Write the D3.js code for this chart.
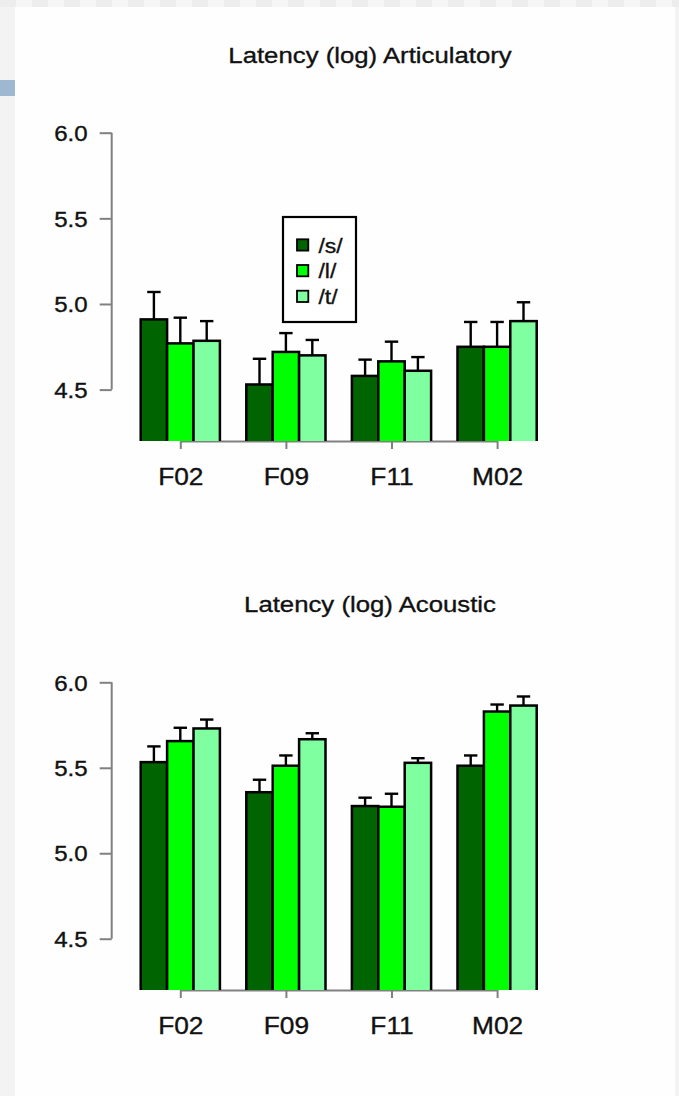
<!DOCTYPE html>
<html>
<head>
<meta charset="utf-8">
<script src="https://cdn.jsdelivr.net/npm/d3@7"></script>
<style>
  html, body { margin: 0; padding: 0; background: #f3f3f3; }
  svg { display: block; }
  text { font-family: "Liberation Sans", Arial, Helvetica, sans-serif; fill: #111; stroke: #111; stroke-width: 0.35px; }
</style>
</head>
<body>
<svg id="chart" width="679" height="1096"></svg>
<script>
// Speakers on the x axis, phonemes as the grouped bars
const speakers = ["F02", "F09", "F11", "M02"];
const phonemes = ["/s/", "/l/", "/t/"];
const phonemeColors = ["#006400", "#00ff00", "#80ffa0"];
const yTicks = [4.5, 5.0, 5.5, 6.0];

// Articulatory latency (log): mean and standard error, one row per phoneme
const articulatoryMean = [
  [4.91, 4.53, 4.58, 4.75],
  [4.77, 4.72, 4.665, 4.75],
  [4.785, 4.70, 4.61, 4.90]
];
const articulatorySE = [
  [0.16, 0.15, 0.095, 0.145],
  [0.15, 0.11, 0.115, 0.145],
  [0.115, 0.09, 0.08, 0.11]
];

// Acoustic latency (log): mean and standard error, one row per phoneme
const acousticMean = [
  [5.533, 5.357, 5.276, 5.512],
  [5.656, 5.512, 5.272, 5.829],
  [5.730, 5.667, 5.529, 5.864]
];
const acousticSE = [
  [0.092, 0.073, 0.049, 0.060],
  [0.078, 0.060, 0.076, 0.041],
  [0.052, 0.035, 0.027, 0.053]
];

const svg = d3.select("#chart");

// Page backdrop: light frame with a white sheet
const frame = svg.append("g");
frame.append("rect").attr("x", 0).attr("y", 0).attr("width", 679).attr("height", 1096).attr("fill", "#f3f3f3");
d3.range(0, 679, 16).forEach((x, i) => {
  frame.append("rect").attr("x", x).attr("y", 0).attr("width", 16).attr("height", 7)
    .attr("fill", i % 2 ? "#f6f6f6" : "#ededed");
});
frame.append("rect").attr("x", 15).attr("y", 7).attr("width", 660).attr("height", 1089).attr("fill", "#fefefe");
frame.append("rect").attr("x", 0).attr("y", 80).attr("width", 15).attr("height", 16).attr("fill", "#9fb8d1");

const X_STRETCH = 1.12;

// Shared x layout: one band per speaker, three bars per band
const x0 = d3.scaleBand().domain(speakers).range([140.7, 536.7]).paddingInner(0.25).paddingOuter(0);
const x1 = d3.scaleBand().domain(phonemes).range([0, x0.bandwidth()]);

function stretchedText(g, x, y, str, size, anchor) {
  return g.append("text")
    .attr("transform", `translate(${x},${y}) scale(${X_STRETCH},1)`)
    .attr("text-anchor", anchor)
    .style("font-size", size + "px")
    .text(str);
}

function drawPanel(opts) {
  const { id, title, titleY, yTop, yBase, means, ses, legend } = opts;
  const g = svg.append("g");
  const y = d3.scaleLinear().domain([4.2, 6.0]).range([yBase, yTop]);

  stretchedText(g, 370, titleY, title, 23, "middle");

  // Left axis
  const axisX = 111.7;
  const ay = g.append("g").attr("transform", `translate(${axisX},0)`)
    .call(d3.axisLeft(y).tickValues(yTicks).tickFormat(d3.format(".1f")).tickSize(12).tickPadding(12).tickSizeOuter(0));
  ay.select(".domain").remove();
  ay.selectAll(".tick line").attr("stroke", "#808080").attr("stroke-width", 2);
  ay.selectAll(".tick text")
    .attr("x", -24 / X_STRETCH)
    .attr("transform", `scale(${X_STRETCH},1)`)
    .attr("dy", "0.36em")
    .style("font-size", "21.5px")
    .style("font-family", "'Liberation Sans', Arial, sans-serif")
    .attr("fill", "#111");
  ay.append("line").attr("x1", 0).attr("x2", 0)
    .attr("y1", y(yTicks[0])).attr("y2", y(yTicks[yTicks.length - 1]))
    .attr("stroke", "#808080").attr("stroke-width", 2);

  // Bottom axis: line between first and last group centre, ticks at centres
  const centers = speakers.map(s => x0(s) + x0.bandwidth() / 2);
  const ax = g.append("g").attr("transform", `translate(0,${yBase})`)
    .call(d3.axisBottom(d3.scalePoint().domain(speakers).range([centers[0], centers[centers.length - 1]]))
      .tickSize(8).tickPadding(19).tickSizeOuter(0));
  ax.select(".domain").attr("stroke", "#808080").attr("stroke-width", 2).attr("d", `M${centers[0]},0.5H${centers[centers.length - 1]}`);
  ax.selectAll(".tick line").attr("stroke", "#808080").attr("stroke-width", 2);
  ax.selectAll(".tick text")
    .attr("transform", `scale(${X_STRETCH},1)`)
    .attr("x", 0)
    .attr("dy", "0.71em")
    .style("font-size", "23.5px")
    .style("font-family", "'Liberation Sans', Arial, sans-serif")
    .attr("fill", "#111");

  // Bars, clipped at the bottom of the plotting region
  g.append("clipPath").attr("id", "clip-" + id)
    .append("rect").attr("x", 0).attr("y", 0).attr("width", 679).attr("height", yBase);

  const rows = [];
  phonemes.forEach((p, pi) => speakers.forEach((s, si) => {
    rows.push({ s, p, pi, m: means[pi][si], e: ses[pi][si] });
  }));

  g.append("g").attr("clip-path", `url(#clip-${id})`)
    .selectAll("rect").data(rows).join("rect")
    .attr("x", d => x0(d.s) + x1(d.p))
    .attr("y", d => y(d.m))
    .attr("width", x1.bandwidth())
    .attr("height", d => yBase + 4 - y(d.m))
    .attr("fill", d => phonemeColors[d.pi])
    .attr("stroke", "#000").attr("stroke-width", 2.5);

  // Error bars (mean to mean + SE, capped)
  const eb = g.append("g").attr("stroke", "#000").attr("stroke-width", 2.4);
  rows.forEach(d => {
    const cx = x0(d.s) + x1(d.p) + x1.bandwidth() / 2;
    eb.append("line").attr("x1", cx).attr("x2", cx).attr("y1", y(d.m)).attr("y2", y(d.m + d.e));
    eb.append("line").attr("x1", cx - 6.7).attr("x2", cx + 6.7).attr("y1", y(d.m + d.e)).attr("y2", y(d.m + d.e));
  });

  if (legend) {
    const lg = g.append("g");
    lg.append("rect").attr("x", 283).attr("y", 217).attr("width", 73).attr("height", 105)
      .attr("fill", "#fff").attr("stroke", "#000").attr("stroke-width", 2.2);
    phonemes.forEach((p, i) => {
      const cy = 245 + i * 25.7;
      lg.append("rect").attr("x", 297).attr("y", cy - 5.7).attr("width", 11.3).attr("height", 11.3)
        .attr("fill", phonemeColors[i]).attr("stroke", "#000").attr("stroke-width", 1.8);
      stretchedText(lg, 318.5, cy + 7.5, p, 20.5, "start");
    });
  }
}

drawPanel({
  id: "art", title: "Latency (log) Articulatory", titleY: 63.3,
  yTop: 132.7, yBase: 441, means: articulatoryMean, ses: articulatorySE, legend: true
});
drawPanel({
  id: "aco", title: "Latency (log) Acoustic", titleY: 612,
  yTop: 682.3, yBase: 990, means: acousticMean, ses: acousticSE, legend: false
});
</script>
</body>
</html>
